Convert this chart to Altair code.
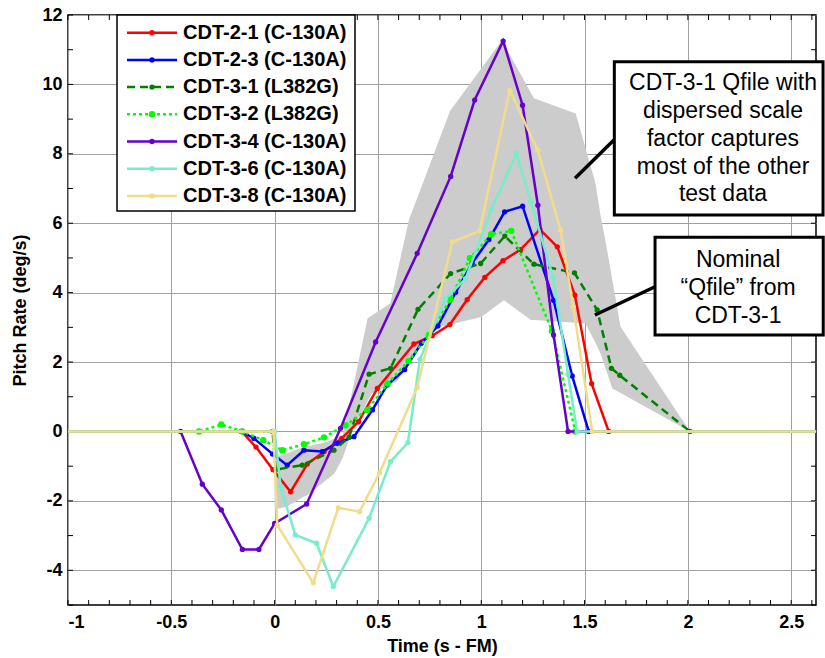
import altair as alt
import pandas as pd

# ---------------- data ----------------
CDT21_T = [-1.0, -0.16, -0.09, -0.008, 0.077, 0.158, 0.24, 0.325, 0.406, 0.497, 0.674, 0.763, 0.848, 0.932, 1.017, 1.105, 1.19, 1.284, 1.368, 1.453, 1.534, 1.617, 2.62]
CDT21_R = [0, 0, -0.45, -1.1, -1.74, -0.94, -0.58, -0.2, 0.28, 1.24, 2.52, 2.76, 3.08, 3.80, 4.44, 4.92, 5.24, 5.82, 5.32, 3.93, 1.38, 0, 0]

CDT23_T = [-1.0, -0.16, -0.10, -0.01, 0.061, 0.142, 0.23, 0.303, 0.384, 0.473, 0.545, 0.629, 0.71, 0.79, 0.876, 0.956, 1.037, 1.113, 1.20, 1.35, 1.44, 1.52, 2.62]
CDT23_R = [0, 0, -0.2, -0.65, -0.97, -0.54, -0.58, -0.34, -0.15, 0.62, 1.34, 1.78, 2.54, 3.04, 4.01, 4.85, 5.53, 6.33, 6.49, 3.78, 1.6, 0, 0]

CDT31_T = [-1.0, -0.01, 0.005, 0.134, 0.287, 0.36, 0.457, 0.561, 0.694, 0.852, 0.997, 1.114, 1.255, 1.451, 1.561, 1.63, 1.67, 2.01, 2.62]
CDT31_R = [0, 0, -1.1, -0.97, -0.54, -0.17, 1.65, 1.82, 3.52, 4.55, 4.84, 5.63, 4.82, 4.57, 3.5, 1.82, 1.62, 0, 0]

CDT32_T = [-1.0, -0.366, -0.258, -0.156, -0.055, 0.037, 0.142, 0.239, 0.343, 0.448, 0.547, 0.648, 0.747, 0.85, 0.945, 1.048, 1.145, 1.342, 1.455, 2.62]
CDT32_R = [0, 0, 0.2, 0, -0.25, -0.54, -0.37, -0.17, 0.18, 0.62, 1.38, 2.03, 2.78, 3.8, 4.99, 5.68, 5.78, 2.9, 0, 0]

CDT34_T = [-1.0, -0.455, -0.35, -0.258, -0.156, -0.076, 0.0, 0.155, 0.319, 0.489, 0.69, 0.852, 0.968, 1.106, 1.20, 1.274, 1.35, 1.42, 2.62]
CDT34_R = [0, 0, -1.52, -2.26, -3.40, -3.40, -2.65, -2.09, 0.09, 2.58, 5.13, 7.35, 9.55, 11.25, 9.40, 6.52, 2.78, 0, 0]

CDT36_T = [-1.0, 0.0, 0.029, 0.10, 0.203, 0.284, 0.457, 0.561, 0.645, 0.703, 0.827, 0.924, 1.048, 1.17, 1.24, 1.348, 1.42, 1.464, 2.62]
CDT36_R = [0, 0, -1.6, -2.98, -3.22, -4.47, -2.50, -0.87, -0.32, 2.08, 3.83, 4.4, 6.38, 8.01, 6.62, 4.44, 1.65, 0, 0]

CDT38_T = [-1.0, -0.006, 0.013, 0.187, 0.308, 0.411, 0.508, 0.69, 0.86, 0.992, 1.138, 1.274, 1.384, 1.445, 1.537, 2.62]
CDT38_R = [0, 0, -2.70, -4.36, -2.2, -2.31, -1.19, 1.27, 5.46, 5.78, 9.83, 8.10, 5.80, 3.59, 0, 0]

# dispersed-scale-factor envelope (grey band)
BAND_T = [0.0, 0.02, 0.06, 0.14, 0.16, 0.25, 0.29, 0.33, 0.37, 0.45, 0.47, 0.56, 0.59, 0.65, 0.71, 0.80, 0.85, 0.87, 1.00, 1.10, 1.11, 1.24, 1.255, 1.457, 1.505, 1.553, 1.577, 1.61, 1.634, 1.674, 2.01]
BAND_HI = [-0.75, -0.71, -0.63, -0.45, -0.43, -0.30, -0.20, -0.10, 1.0, 3.26, 3.34, 3.69, 4.5, 6.10, 7.04, 8.46, 9.25, 9.41, 10.46, 11.27, 11.16, 9.76, 9.60, 9.16, 8.15, 7.15, 6.23, 5.20, 4.38, 3.02, 0]
BAND_LO = [-2.20, -2.22, -2.17, -1.88, -1.83, -1.40, -1.21, -0.75, -0.05, 0.87, 1.10, 1.35, 1.43, 1.98, 2.54, 3.02, 3.07, 3.11, 3.30, 3.74, 3.78, 3.21, 3.21, 3.13, 3.11, 2.55, 2.25, 1.67, 1.24, 1.11, 0]

NAMES = ["CDT-2-1 (C-130A)", "CDT-2-3 (C-130A)", "CDT-3-1 (L382G)", "CDT-3-2 (L382G)",
         "CDT-3-4 (C-130A)", "CDT-3-6 (C-130A)", "CDT-3-8 (C-130A)"]
COLORS = ["#FF0000", "#0000FF", "#008000", "#00FF00", "#6600CC", "#78ECCB", "#F0DC8A"]
DASHES = [None, None, [8, 5], [3, 3], None, None, None]
SIZES = [28, 28, 28, 42, 28, 28, 28]
SERIES_T = [CDT21_T, CDT23_T, CDT31_T, CDT32_T, CDT34_T, CDT36_T, CDT38_T]
SERIES_R = [CDT21_R, CDT23_R, CDT31_R, CDT32_R, CDT34_R, CDT36_R, CDT38_R]

XTICKS = [-1, -0.5, 0, 0.5, 1, 1.5, 2, 2.5]
YTICKS = [-4, -2, 0, 2, 4, 6, 8, 10, 12]
XMINOR = [round(-1 + 0.1 * i, 1) for i in range(37)]
YMINOR = list(range(-5, 13))

ANNOT1 = ["CDT-3-1 Qfile with", "dispersed scale", "factor captures", "most of the other", "test data"]
ANNOT1_Y = [10.05, 9.24, 8.43, 7.63, 6.84]
ANNOT2 = ["Nominal", "\u201cQfile\u201d from", "CDT-3-1"]
ANNOT2_Y = [4.94, 4.13, 3.33]

# ---------------- chart ----------------
W, H = 748, 590
FONT = "Liberation Sans"
xs = alt.Scale(domain=[-1, 2.62], nice=False, zero=False)
ys = alt.Scale(domain=[-5, 12], nice=False, zero=False)

rows = []
for name, ts, rs in zip(NAMES, SERIES_T, SERIES_R):
    n = len(ts)
    for i, (t, r) in enumerate(zip(ts, rs)):
        rows.append({"series": name, "t": t, "rate": r, "i": i, "m": 0 if i in (0, n - 1) else 1})
df = pd.DataFrame(rows)
band_df = pd.DataFrame({"t": BAND_T, "hi": BAND_HI, "lo": BAND_LO})

band = alt.Chart(band_df).mark_area(color="#CCCCCC", opacity=1).encode(
    x=alt.X("t:Q", scale=xs, axis=alt.Axis(
        values=XTICKS, labelExpr="'' + datum.value", title="Time (s - FM)",
        grid=True, ticks=False, domain=False, labelPadding=8, titlePadding=6)),
    y=alt.Y("hi:Q", scale=ys, axis=alt.Axis(
        values=YTICKS, labelExpr="'' + datum.value", title="Pitch Rate (deg/s)",
        grid=True, ticks=False, domain=False, labelPadding=6, titlePadding=12)),
    y2="lo:Q",
)

layers = [band]

xt_df = pd.DataFrame({"t": XMINOR})
yt_df = pd.DataFrame({"rate": YMINOR})
layers.append(alt.Chart(xt_df).mark_rule(color="black", strokeWidth=1).encode(
    x=alt.X("t:Q", scale=xs), y=alt.value(H), y2=alt.value(H - 5)))
layers.append(alt.Chart(xt_df).mark_rule(color="black", strokeWidth=1).encode(
    x=alt.X("t:Q", scale=xs), y=alt.value(0), y2=alt.value(5)))
layers.append(alt.Chart(yt_df).mark_rule(color="black", strokeWidth=1).encode(
    y=alt.Y("rate:Q", scale=ys), x=alt.value(0), x2=alt.value(5)))
layers.append(alt.Chart(yt_df).mark_rule(color="black", strokeWidth=1).encode(
    y=alt.Y("rate:Q", scale=ys), x=alt.value(W), x2=alt.value(W - 5)))

for name, c, d, s in zip(NAMES, COLORS, DASHES, SIZES):
    kw = {"strokeDash": d} if d else {}
    base = alt.Chart(df).transform_filter(alt.datum.series == name)
    layers.append(base.mark_line(color=c, strokeWidth=2.5, **kw).encode(
        x=alt.X("t:Q", scale=xs), y=alt.Y("rate:Q", scale=ys), order="i:Q"))
    layers.append(base.transform_filter(alt.datum.m == 1).mark_circle(color=c, size=s, opacity=1).encode(
        x=alt.X("t:Q", scale=xs), y=alt.Y("rate:Q", scale=ys)))

# annotations (data coordinates)
boxes = pd.DataFrame({"t": [1.644, 1.841], "t2": [2.654, 2.655], "rate": [10.654, 5.595], "rate2": [6.237, 2.779]})
leaders = pd.DataFrame({"t": [1.454, 1.550], "t2": [1.642, 1.841], "rate": [7.295, 3.356], "rate2": [8.398, 4.171]})
layers.append(alt.Chart(leaders).mark_rule(color="black", strokeWidth=3.5).encode(
    x=alt.X("t:Q", scale=xs), x2="t2:Q", y=alt.Y("rate:Q", scale=ys), y2="rate2:Q"))
layers.append(alt.Chart(boxes).mark_rect(fill="white", stroke="black", strokeWidth=3).encode(
    x=alt.X("t:Q", scale=xs), x2="t2:Q", y=alt.Y("rate:Q", scale=ys), y2="rate2:Q"))
txt_df = pd.DataFrame({
    "t": [2.170] * len(ANNOT1) + [2.243] * len(ANNOT2),
    "rate": ANNOT1_Y + ANNOT2_Y,
    "label": ANNOT1 + ANNOT2,
})
layers.append(alt.Chart(txt_df).mark_text(
    font=FONT, fontSize=23, align="center", baseline="middle", color="black"
).encode(x=alt.X("t:Q", scale=xs), y=alt.Y("rate:Q", scale=ys), text="label:N"))

# legend
one = pd.DataFrame({"k": [0]})
layers.append(alt.Chart(one).mark_rect(fill="white", stroke="black", strokeWidth=1.5).encode(
    x=alt.value(49), x2=alt.value(287), y=alt.value(0), y2=alt.value(196)))
LEG_Y0, LEG_DY = 17.7, 27.2
for k, (name, c, d, s) in enumerate(zip(NAMES, COLORS, DASHES, SIZES)):
    yy = LEG_Y0 + LEG_DY * k
    kw = {"strokeDash": d} if d else {}
    layers.append(alt.Chart(one).mark_rule(color=c, strokeWidth=2.5, **kw).encode(
        x=alt.value(59), x2=alt.value(109), y=alt.value(yy)))
    layers.append(alt.Chart(one).mark_circle(color=c, size=s, opacity=1).encode(
        x=alt.value(84), y=alt.value(yy)))
    layers.append(alt.Chart(one).mark_text(
        text=name, align="left", baseline="middle", font=FONT, fontSize=20, fontWeight="bold", color="black"
    ).encode(x=alt.value(115), y=alt.value(yy)))

chart = alt.layer(*layers).properties(
    width=W, height=H,
    autosize=alt.AutoSizeParams(type="none"),
    padding={"left": 68, "top": 15, "right": 9, "bottom": 53},
    background="white",
).configure_view(
    stroke="black", strokeWidth=1.5
).configure_axis(
    labelFont=FONT, labelFontSize=18, labelFontWeight="bold", labelColor="black",
    titleFont=FONT, titleFontSize=18, titleFontWeight="bold", titleColor="black",
    gridColor="#A0A0A0", gridWidth=1, gridOpacity=1,
)

chart.save("out.html", embed_options={"renderer": "svg", "actions": False})
